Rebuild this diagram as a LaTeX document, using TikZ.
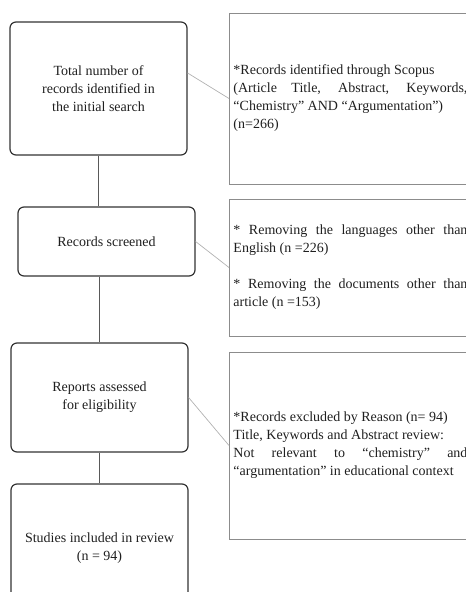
\documentclass[tikz,border=0pt]{standalone}
\usepackage{fontspec}
\setmainfont{Liberation Serif}
\begin{document}
\begin{tikzpicture}[x=1pt,y=-1pt,
  every node/.style={font=\fontsize{14}{18}\selectfont, text=black!88},
  lbox/.style={draw=black!80, line width=1.2pt, rounded corners=6pt, minimum width=177pt, align=center, inner sep=0pt},
  rbox/.style={draw=black!45, line width=0.9pt, text width=234pt, inner xsep=4pt, inner ysep=0pt, align=justify, anchor=west},
  vline/.style={draw=black!65, line width=0.9pt},
  dline/.style={draw=black!30, line width=0.7pt}]
\useasboundingbox (0,0) rectangle (466,592);
\clip (0,0) rectangle (466,592);
\node[lbox, minimum height=133pt] (b1) at (98.5,88.5) {Total number of\\records identified in\\the initial search};
\node[lbox, minimum height=69pt] (b2) at (106.5,241.5) {Records screened};
\node[lbox, minimum height=109pt] (b3) at (99.5,397.5) {Reports assessed\\for eligibility};
\node[lbox, minimum height=128pt] (b4) at (99.5,548) {Studies included in review\\(n = 94)};
\node[rbox, minimum height=171pt] (r1) at (229,98.5) {*Records identified through Scopus\\(Article Title, Abstract, Keywords,\linebreak “Chemistry” AND “Argumentation”)\\(n=266)};
\node[rbox, minimum height=137pt] (r2) at (229,267.5) {* Removing the languages other than\linebreak English (n =226)\\[18pt]* Removing the documents other than\linebreak article (n =153)};
\node[rbox, minimum height=187pt] (r3) at (229,445.5) {*Records excluded by Reason (n= 94)\\Title, Keywords and Abstract review:\\Not relevant to “chemistry” and\linebreak “argumentation” in educational context};
\draw[vline] (b1.south) -- (b1.south |- b2.north);
\draw[vline] (b3.north |- b2.south) -- (b3.north);
\draw[vline] (b3.south) -- (b4.north);
\draw[dline] ([yshift=15.5pt]b1.east) -- (r1.west);
\draw[dline] (b2.east) -- (r2.west);
\draw[dline] (b3.east) -- (r3.west);
\end{tikzpicture}
\end{document}
